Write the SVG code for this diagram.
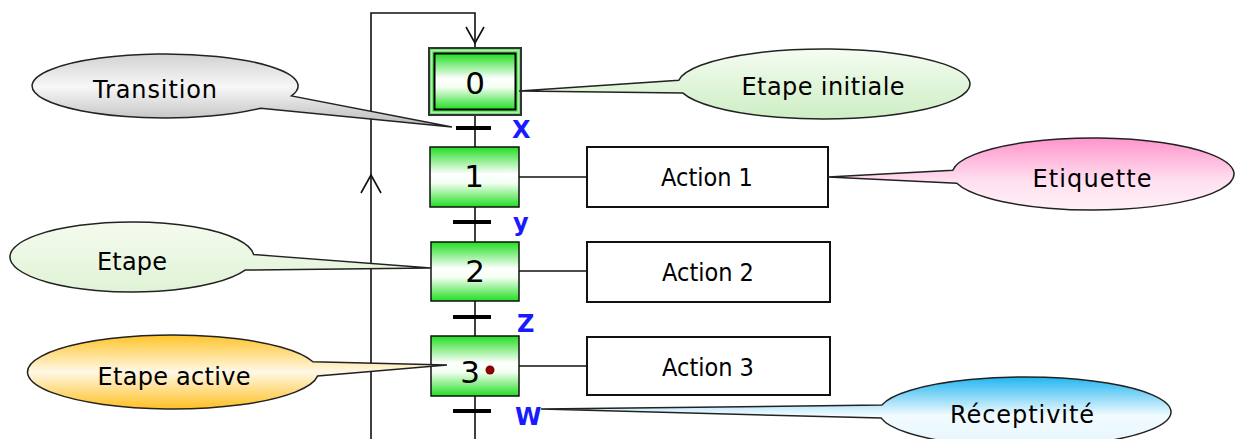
<svg xmlns="http://www.w3.org/2000/svg" width="1237" height="439" viewBox="0 0 1237 439">
  <defs>
    <linearGradient id="gStep" x1="0" y1="0" x2="0" y2="1">
      <stop offset="0" stop-color="#22dd22"/>
      <stop offset="0.45" stop-color="#ffffff"/>
      <stop offset="0.6" stop-color="#f4fff4"/>
      <stop offset="1" stop-color="#22dd22"/>
    </linearGradient>
    <linearGradient id="gGrey" x1="0" y1="0" x2="0" y2="1">
      <stop offset="0" stop-color="#d2d2d2"/>
      <stop offset="0.45" stop-color="#f7f7f7"/>
      <stop offset="1" stop-color="#b9b9b9"/>
    </linearGradient>
    <linearGradient id="gPaleGreen" x1="0" y1="0" x2="0" y2="1">
      <stop offset="0" stop-color="#f5fcf2"/>
      <stop offset="1" stop-color="#cdeec4"/>
    </linearGradient>
    <linearGradient id="gPaleGreen2" x1="0" y1="0" x2="0" y2="1">
      <stop offset="0" stop-color="#f4fbee"/>
      <stop offset="1" stop-color="#e0f3d6"/>
    </linearGradient>
    <linearGradient id="gPink" x1="0" y1="0" x2="0" y2="1">
      <stop offset="0" stop-color="#ff94cb"/>
      <stop offset="0.6" stop-color="#ffe0f0"/>
      <stop offset="1" stop-color="#fff0f7"/>
    </linearGradient>
    <linearGradient id="gOrange" x1="0" y1="0" x2="0" y2="1">
      <stop offset="0" stop-color="#ffc42a"/>
      <stop offset="0.5" stop-color="#fff8e6"/>
      <stop offset="1" stop-color="#ffc023"/>
    </linearGradient>
    <linearGradient id="gBlue" x1="0" y1="0" x2="0" y2="1">
      <stop offset="0" stop-color="#22b5f0"/>
      <stop offset="0.55" stop-color="#f2fbff"/>
      <stop offset="1" stop-color="#e5f6fd"/>
    </linearGradient>
    <style>
      .step { fill: url(#gStep); stroke: #111; stroke-width: 1.5; }
      .num { font-family: "DejaVu Sans", "Liberation Sans", sans-serif; font-size: 31px; fill: #000; text-anchor: middle; }
      .action { fill: #fff; stroke: #111; stroke-width: 2; }
      .atext { font-family: "DejaVu Sans Condensed", "DejaVu Sans", sans-serif; font-stretch: condensed; font-size: 25px; fill: #000; text-anchor: middle; }
      .wire { fill: none; stroke: #111; stroke-width: 1.6; }
      .bar { stroke: #000; stroke-width: 4; }
      .recep { font-family: "DejaVu Sans", sans-serif; font-weight: bold; font-size: 24px; fill: #1a1aff; }
      .bubble { stroke: #222; stroke-width: 1.5; }
      .btext { font-family: "DejaVu Sans", "Liberation Sans", sans-serif; font-size: 24px; fill: #000; text-anchor: middle; }
    </style>
  </defs>

  <rect width="1237" height="439" fill="#fff"/>

  <!-- links: main flow, loop-back and step-to-action wires -->
  <g id="connectors">
    <path class="wire" d="M475,439 V396 M475,336 V301 M475,242 V207 M475,147 V115"/>
    <path class="wire" d="M371,439 V13 H475 V47"/>
    <path class="wire" d="M466,27 L475,43 L484,27"/>
    <path class="wire" d="M361,193 L371,175 L381,193"/>
    <line class="wire" x1="519" y1="177" x2="587" y2="177"/>
    <line class="wire" x1="519" y1="271" x2="587" y2="271"/>
    <line class="wire" x1="519" y1="366" x2="587" y2="366"/>
  </g>

  <!-- steps -->
  <g id="step0">
    <rect x="429" y="48" width="92" height="67" fill="#55e555" stroke="#333" stroke-width="2"/>
    <rect x="431.5" y="50.5" width="87" height="62" fill="none" stroke="#b9e8b9" stroke-width="1.5"/>
    <rect x="434.5" y="53.5" width="81" height="56" fill="url(#gStep)" stroke="#000" stroke-width="2"/>
    <text class="num" x="475" y="94">0</text>
  </g>
  <g id="step1">
    <rect class="step" x="430" y="147" width="89" height="60"/>
    <text class="num" x="474" y="187">1</text>
  </g>
  <g id="step2">
    <rect class="step" x="431" y="242" width="88" height="59"/>
    <text class="num" x="475" y="282">2</text>
  </g>
  <g id="step3">
    <rect class="step" x="431" y="336" width="88" height="60"/>
    <text class="num" x="470" y="383">3</text>
    <circle cx="490" cy="370" r="4.5" fill="#8b0000"/>
  </g>

  <!-- actions -->
  <g id="action1">
    <rect class="action" x="587" y="147" width="241" height="60"/>
    <text class="atext" x="707" y="186">Action 1</text>
  </g>
  <g id="action2">
    <rect class="action" x="587" y="242" width="243" height="60"/>
    <text class="atext" x="708" y="281">Action 2</text>
  </g>
  <g id="action3">
    <rect class="action" x="587" y="337" width="243" height="58"/>
    <text class="atext" x="708" y="376">Action 3</text>
  </g>

  <!-- transitions with their receptivities -->
  <g id="trans0">
    <line class="bar" x1="456" y1="128" x2="491" y2="128"/>
    <text class="recep" x="512" y="138">X</text>
  </g>
  <g id="trans1">
    <line class="bar" x1="453" y1="222" x2="491" y2="222"/>
    <text class="recep" x="513" y="231">y</text>
  </g>
  <g id="trans2">
    <line class="bar" x1="453" y1="317" x2="491" y2="317"/>
    <text class="recep" x="517" y="332">Z</text>
  </g>
  <g id="trans3">
    <line class="bar" x1="453" y1="411" x2="491" y2="411"/>
    <text class="recep" x="515" y="425">W</text>
  </g>

  <!-- callouts -->
  <g id="callout-transition">
    <path class="bubble" fill="url(#gGrey)" d="M291.5,95.9 A133,32 0 1 0 260.7,108.2 L452,127 Z"/>
    <text class="btext" x="155" y="98" textLength="124" lengthAdjust="spacing">Transition</text>
  </g>
  <g id="callout-initiale">
    <path class="bubble" fill="url(#gPaleGreen)" d="M678.8,80.3 A146,35 0 1 1 683,93.1 L519,91 Z"/>
    <text class="btext" x="823" y="95" textLength="163" lengthAdjust="spacing">Etape initiale</text>
  </g>
  <g id="callout-etiquette">
    <path class="bubble" fill="url(#gPink)" d="M952.8,170.2 A141,36 0 1 1 956.8,183.3 L828,177 Z"/>
    <text class="btext" x="1092" y="187" textLength="119" lengthAdjust="spacing">Etiquette</text>
  </g>
  <g id="callout-etape">
    <path class="bubble" fill="url(#gPaleGreen2)" d="M253.7,254.6 A122,35 0 1 0 245.1,270.1 L431,268 Z"/>
    <text class="btext" x="132" y="270" textLength="70" lengthAdjust="spacing">Etape</text>
  </g>
  <g id="callout-active">
    <path class="bubble" fill="url(#gOrange)" d="M312.9,361.8 A145.5,37 0 1 0 317.7,375.9 L447,365 Z"/>
    <text class="btext" x="174" y="385" textLength="153" lengthAdjust="spacing">Etape active</text>
  </g>
  <g id="callout-receptivite">
    <path class="bubble" fill="url(#gBlue)" d="M881.9,405 A146,35 0 1 1 881.2,418.1 L541,409 Z"/>
    <text class="btext" x="1022" y="423" textLength="144" lengthAdjust="spacing">Réceptivité</text>
  </g>
</svg>
